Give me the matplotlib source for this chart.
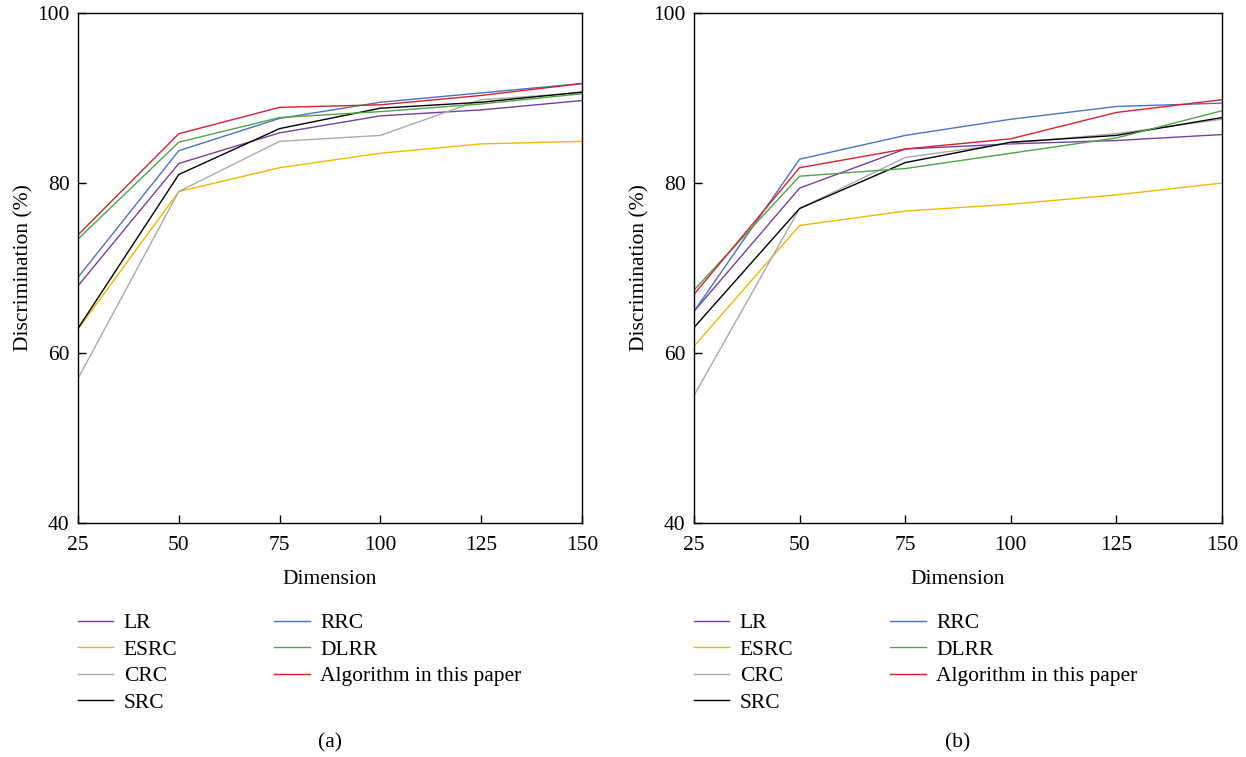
import matplotlib
import matplotlib.pyplot as plt

matplotlib.use("Agg")

plt.rcParams["font.family"] = ["Liberation Serif", "DejaVu Serif"]
plt.rcParams["font.size"] = 15.5

# x values (dimension) shared by both panels
dims = [25, 50, 75, 100, 125, 150]

methods = ["LR", "ESRC", "CRC", "SRC", "RRC", "DLRR", "Algorithm in this paper"]
colors = ["#7540A0", "#F2B705", "#AAAAAA", "#000000", "#4A72C6", "#4EA447", "#D7222B"]

# panel (a)
lr_a = [67.9, 82.3, 85.9, 87.9, 88.6, 89.7]
esrc_a = [62.8, 79.0, 81.8, 83.5, 84.6, 84.9]
crc_a = [57.0, 79.0, 84.9, 85.6, 89.8, 90.6]
src_a = [62.9, 81.0, 86.4, 88.8, 89.5, 90.7]
rrc_a = [68.9, 83.8, 87.6, 89.5, 90.6, 91.7]
dlrr_a = [73.4, 84.8, 87.7, 88.4, 89.3, 90.5]
ours_a = [73.9, 85.8, 88.9, 89.2, 90.3, 91.7]

# panel (b)
lr_b = [64.9, 79.4, 84.0, 84.6, 85.0, 85.7]
esrc_b = [60.8, 75.0, 76.7, 77.5, 78.6, 80.0]
crc_b = [55.0, 77.0, 83.0, 84.7, 85.8, 87.5]
src_b = [63.0, 77.0, 82.4, 84.8, 85.6, 87.7]
rrc_b = [64.9, 82.8, 85.6, 87.5, 89.0, 89.4]
dlrr_b = [67.4, 80.8, 81.7, 83.5, 85.3, 88.5]
ours_b = [66.9, 81.8, 84.0, 85.2, 88.3, 89.8]

panels = [
    ("(a)", [lr_a, esrc_a, crc_a, src_a, rrc_a, dlrr_a, ours_a]),
    ("(b)", [lr_b, esrc_b, crc_b, src_b, rrc_b, dlrr_b, ours_b]),
]

fig = plt.figure(figsize=(12.46, 7.57), dpi=100)
axes_pos = [
    [78 / 1246, 1 - 523 / 757, 504 / 1246, 510 / 757],
    [694 / 1246, 1 - 523 / 757, 528 / 1246, 510 / 757],
]

for pos, (tag, series) in zip(axes_pos, panels):
    ax = fig.add_axes(pos)
    for name, vals, col in zip(methods, series, colors):
        ax.plot(dims, vals, color=col, lw=1.0, label=name)
    ax.set_xlim(25, 150)
    ax.set_ylim(40, 100)
    ax.set_xticks(dims)
    ax.set_yticks([40, 60, 80, 100])
    ax.tick_params(direction="in", length=6, width=1.0, labelsize=15.5)
    ax.tick_params(axis="x", pad=9)
    ax.tick_params(axis="y", pad=6)
    for sp in ax.spines.values():
        sp.set_linewidth(1.0)
    ax.set_xlabel("Dimension", fontsize=15.5, labelpad=11)
    ax.set_ylabel("Discrimination (%)", fontsize=15.5, labelpad=3)

    x0 = pos[0]
    ax.legend(loc="upper left", bbox_to_anchor=(x0, 1 - 613 / 757),
              bbox_transform=fig.transFigure, ncol=2, frameon=False,
              borderpad=0, borderaxespad=0, handlelength=1.63,
              handletextpad=0.5, labelspacing=0.3, columnspacing=4.5,
              fontsize=15.5)
    fig.text(pos[0] + pos[2] / 2, 1 - 743 / 757, tag, ha="center",
             va="center", fontsize=15.5)

fig.savefig("out.png", dpi=100)
